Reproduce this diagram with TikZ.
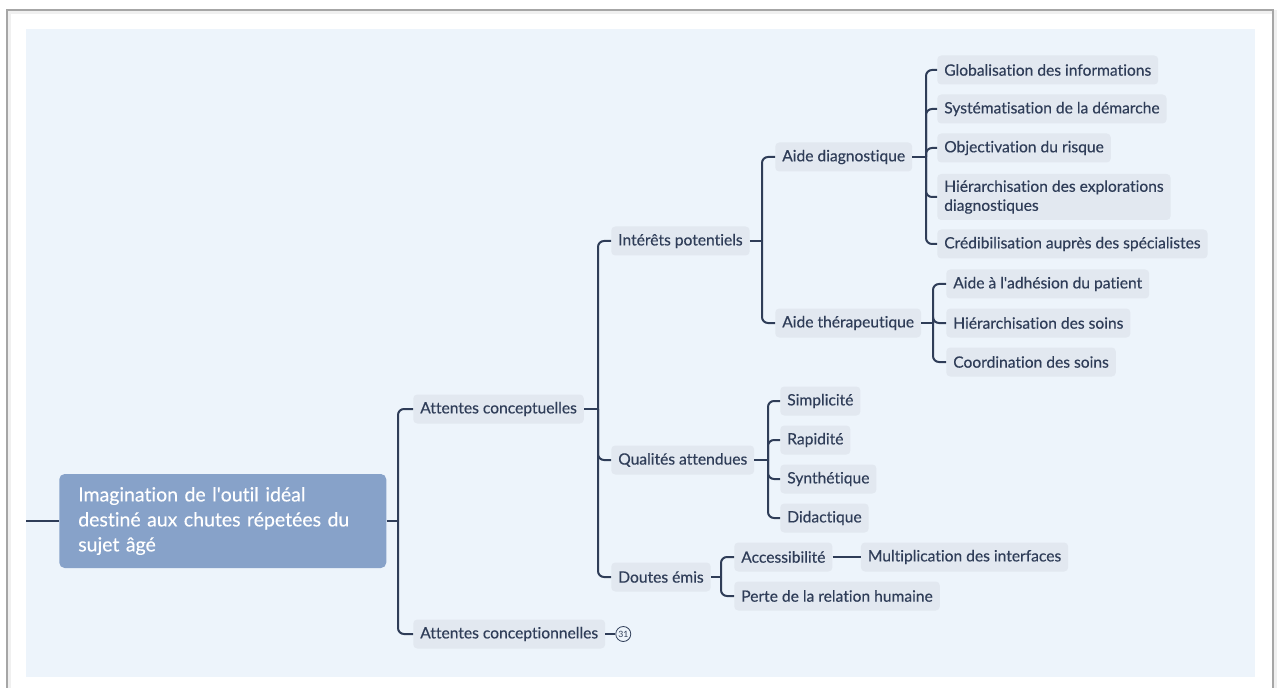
\documentclass[tikz,border=0pt]{standalone}
\usepackage{fontspec}
\setmainfont{Lato}[Ligatures=NoCommon]
\newfontfamily\topicfont{Lato}[Ligatures=NoCommon, FakeBold=0.35]
\usepackage{tikz}
\usetikzlibrary{positioning}

\definecolor{inkblue}{HTML}{2F3D58}
\definecolor{paneblue}{HTML}{EDF4FB}
\definecolor{topicgray}{HTML}{E2E8F0}
\definecolor{rootblue}{HTML}{87A2C9}
\definecolor{framegray}{HTML}{A6A6A6}

\tikzset{
  topic/.style={fill=topicgray, text=inkblue, rounded corners=3pt, anchor=west,
    inner xsep=5.25pt, inner ysep=2pt, minimum height=21.75pt, align=left,
    font=\topicfont\fontsize{11.7}{14.3}\selectfont},
  central/.style={fill=rootblue, text=white, rounded corners=4pt, anchor=west,
    inner xsep=14.25pt, text width=216.75pt, minimum height=70.5pt, align=left,
    font=\topicfont\fontsize{14.6}{18.75}\selectfont},
  badge/.style={circle, draw=inkblue, line width=0.6pt, inner sep=0pt,
    minimum size=11.25pt, text=inkblue, font=\fontsize{6.5}{6.5}\selectfont},
  branch/.style={draw=inkblue, line width=1.5pt, rounded corners=4.5pt},
}

\begin{document}
\begin{tikzpicture}[x=0.75pt, y=-0.75pt]
    \useasboundingbox (0,0) rectangle (1279,688);
    \fill[white] (0,0) rectangle (1279,688);

    % Frame and pane
    \draw[black!6, line width=2.5pt] (9,688) -- (9,12) -- (1275,12) -- (1275,688);
    \draw[framegray, line width=1.1pt] (7,688) -- (7,10) -- (1273,10) -- (1273,688);
    \fill[paneblue] (26,29) rectangle (1255,677);

    % Central topic
    \node[central] (root) at (59,521) {Imagination de l\textquotesingle outil idéal\\destiné aux chutes répetées du\\sujet âgé};

    % Main branches
    \node[topic] (concept) at (413,409) {Attentes conceptuelles};
    \node[topic] (concep) at (413,634) {Attentes conceptionnelles};
    \node[badge, right=7.5pt of concep] (count) {31};

    \node[topic] (interets) at (611,241) {Intérêts potentiels};
    \node[topic] (qualites) at (611,460) {Qualités attendues};
    \node[topic] (doutes) at (611,577) {Doutes émis};

    \node[topic] (diag) at (775,157) {Aide diagnostique};
    \node[topic] (thera) at (775,323) {Aide thérapeutique};

    \node[topic] (glob) at (937,70) {Globalisation des informations};
    \node[topic] (syst) at (937,109) {Systématisation de la démarche};
    \node[topic] (obj) at (937,148) {Objectivation du risque};
    \node[topic, minimum height=34.5pt] (hier) at (937,197) {Hiérarchisation des explorations\\diagnostiques};
    \node[topic] (cred) at (937,244) {Crédibilisation auprès des spécialistes};

    \node[topic] (adh) at (946,284) {Aide à l\textquotesingle adhésion du patient};
    \node[topic] (hsoins) at (946,323) {Hiérarchisation des soins};
    \node[topic] (csoins) at (946,362) {Coordination des soins};

    \node[topic] (simp) at (780,401) {Simplicité};
    \node[topic] (rapi) at (780,440) {Rapidité};
    \node[topic] (synt) at (780,479) {Synthétique};
    \node[topic] (dida) at (780,518) {Didactique};

    \node[topic] (acc) at (734,557) {Accessibilité};
    \node[topic, right=21pt of acc] (mult) {Multiplication des interfaces};
    \node[topic] (perte) at (734,596) {Perte de la relation humaine};

    % Connectors
    \coordinate (stub) at (26,521);
    \draw[branch] (stub) -- (root.west);

    \draw[branch] (root.east) -- (398,521) coordinate (jroot);
    \foreach \c in {concept, concep} \draw[branch] (jroot) |- (\c.west);
    \draw[inkblue, line width=1pt] (concep.east) -- (count.west);

    \draw[branch] (concept.east) -- (598,409) coordinate (jconcept);
    \foreach \c in {interets, qualites, doutes} \draw[branch] (jconcept) |- (\c.west);

    \draw[branch] (interets.east) -- (762,241) coordinate (jinter);
    \foreach \c in {diag, thera} \draw[branch] (jinter) |- (\c.west);

    \draw[branch] (diag.east) -- (926,157) coordinate (jdiag);
    \foreach \c in {glob, syst, obj, hier, cred} \draw[branch] (jdiag) |- (\c.west);

    \draw[branch] (thera.east) -- (933,323) coordinate (jthera);
    \foreach \c in {adh, hsoins, csoins} \draw[branch] (jthera) |- (\c.west);

    \draw[branch] (qualites.east) -- (768,460) coordinate (jqual);
    \foreach \c in {simp, rapi, synt, dida} \draw[branch] (jqual) |- (\c.west);

    \draw[branch] (doutes.east) -- (721,577) coordinate (jdout);
    \foreach \c in {acc, perte} \draw[branch] (jdout) |- (\c.west);
    \draw[branch] (acc.east) -- (mult.west);
\end{tikzpicture}
\end{document}
